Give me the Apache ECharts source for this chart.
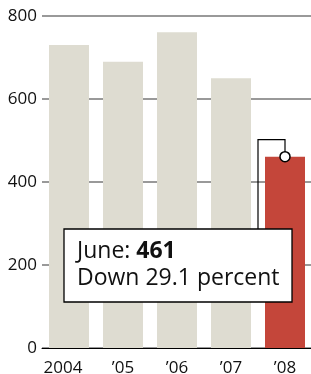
<!DOCTYPE html>
<html>
<head>
<meta charset="utf-8">
<script src="https://cdn.jsdelivr.net/npm/echarts@6/dist/echarts.min.js"></script>
<style>
  html, body { margin: 0; padding: 0; background: #fff; }
  #chart { width: 311px; height: 374px; }
</style>
</head>
<body>
<div id="chart"></div>
<script>
const years = ["2004", "\u201905", "\u201906", "\u201907", "\u201908"];
const values = [730, 690, 761, 650, 461];
const yTicks = [0, 200, 400, 600, 800];
const noteMonth = "June";
const noteValue = 461;
const noteText = "Down 29.1 percent";

const chart = echarts.init(document.getElementById("chart"));

const option = {
  animation: false,
  grid: { left: 42, right: -1, top: 16, bottom: 26, outerBoundsMode: "none" },
  xAxis: {
    type: "category",
    // the full year label sits a bit left of its bar in the original
    data: years.map((y, i) => i === 0 ? { value: y, textStyle: { padding: [0, 12, 0, 0] } } : y),
    axisLine: { lineStyle: { color: "#000", width: 1 } },
    axisTick: { show: false },
    axisLabel: { color: "#111", fontSize: 17, fontFamily: "Open Sans", margin: 12 }
  },
  yAxis: {
    type: "value",
    min: yTicks[0],
    max: yTicks[yTicks.length - 1],
    interval: 200,
    axisLine: { show: false },
    axisTick: { show: false },
    axisLabel: { color: "#111", fontSize: 17, fontFamily: "Open Sans", margin: 5 },
    splitLine: { lineStyle: { color: "#777", width: 1.5 } }
  },
  series: [
    {
      type: "bar",
      barWidth: 40,
      data: values.map((v, i) => ({
        value: v,
        itemStyle: { color: i === values.length - 1 ? "#c4463a" : "#dedcd1" }
      }))
    }
  ]
};
chart.setOption(option);

// annotation: connector from the last bar's top to the box
const last = values.length - 1;
const barTop = chart.convertToPixel({ seriesIndex: 0 }, [last, noteValue]);
const boxX = 64, boxY = 229, boxW = 228, boxH = 73;
const bendY = barTop[1] - 17;
const legX = 258;

chart.setOption({
  graphic: [
    {
      type: "polyline",
      shape: { points: [[barTop[0], barTop[1]], [barTop[0], bendY], [legX, bendY], [legX, boxY]] },
      style: { stroke: "#000", lineWidth: 1.2, fill: null },
      z: 10
    },
    {
      type: "circle",
      shape: { cx: barTop[0], cy: barTop[1], r: 5 },
      style: { fill: "#fff", stroke: "#000", lineWidth: 1.5 },
      z: 11
    },
    {
      type: "rect",
      shape: { x: boxX, y: boxY, width: boxW, height: boxH },
      style: { fill: "#fff", stroke: "#000", lineWidth: 1.3 },
      z: 12
    },
    {
      type: "text",
      x: boxX + 13,
      y: boxY + 9,
      z: 13,
      style: {
        text: "{n|" + noteMonth + ": }{b|" + noteValue + "}\n{n|" + noteText + "}",
        rich: {
          n: { fontSize: 23, fontFamily: "Open Sans", fill: "#111", lineHeight: 27 },
          b: { fontSize: 23, fontFamily: "Open Sans", fontWeight: "bold", fill: "#111", lineHeight: 27 }
        }
      }
    }
  ]
});
</script>
</body>
</html>
